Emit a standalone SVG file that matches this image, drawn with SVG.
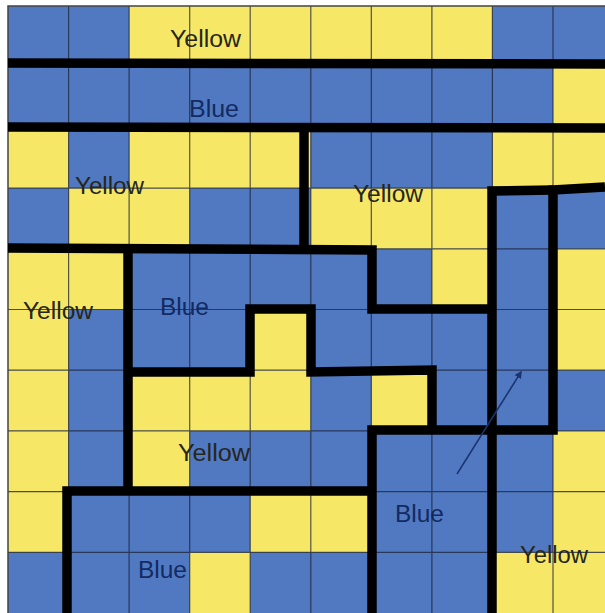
<svg xmlns="http://www.w3.org/2000/svg" width="605" height="613" viewBox="0 0 605 613">
<defs>
<style>
.y{fill:#f6e866}
.grid{stroke:#1c2236;stroke-opacity:0.75;stroke-width:1.2;fill:none}
.wall{stroke:#000;stroke-width:9.5;fill:none;stroke-linejoin:miter;stroke-linecap:butt}
.ly{font-family:"Liberation Sans",Arial,sans-serif;font-size:23px;fill:#26261c}
.lb{font-family:"Liberation Sans",Arial,sans-serif;font-size:23px;fill:#132a62}
</style>
<marker id="ah" viewBox="0 0 10 10" refX="8" refY="5" markerWidth="5" markerHeight="5" orient="auto">
<path d="M0,0 L10,5 L0,10 z" fill="#1a3470"/>
</marker>
</defs>
<rect x="0" y="0" width="605" height="613" fill="#fff"/>
<g id="cells">
<rect x="8" y="6" width="606" height="607" fill="#5079c2"/>
<rect class="y" x="129.1" y="6" width="363.3" height="60.7"/>
<rect class="y" x="553" y="66.7" width="60.6" height="60.7"/>
<rect class="y" x="8" y="127.4" width="60.6" height="60.7"/>
<rect class="y" x="129.1" y="127.4" width="181.7" height="60.7"/>
<rect class="y" x="492.4" y="127.4" width="121.2" height="60.7"/>
<rect class="y" x="68.6" y="188.1" width="121.1" height="60.7"/>
<rect class="y" x="310.8" y="188.1" width="181.6" height="60.7"/>
<rect class="y" x="8" y="248.8" width="121.1" height="60.7"/>
<rect class="y" x="431.9" y="248.8" width="60.6" height="60.7"/>
<rect class="y" x="553" y="248.8" width="60.6" height="60.7"/>
<rect class="y" x="8" y="309.5" width="60.6" height="60.7"/>
<rect class="y" x="250.2" y="309.5" width="60.6" height="60.7"/>
<rect class="y" x="553" y="309.5" width="60.6" height="60.7"/>
<rect class="y" x="8" y="370.2" width="60.6" height="60.7"/>
<rect class="y" x="129.1" y="370.2" width="181.7" height="60.7"/>
<rect class="y" x="371.3" y="370.2" width="60.6" height="60.7"/>
<rect class="y" x="8" y="430.9" width="60.6" height="60.7"/>
<rect class="y" x="129.1" y="430.9" width="60.6" height="60.7"/>
<rect class="y" x="553" y="430.9" width="60.6" height="60.7"/>
<rect class="y" x="8" y="491.6" width="60.6" height="60.7"/>
<rect class="y" x="250.2" y="491.6" width="121.1" height="60.7"/>
<rect class="y" x="553" y="491.6" width="60.6" height="60.7"/>
<rect class="y" x="189.7" y="552.3" width="60.6" height="60.7"/>
<rect class="y" x="492.4" y="552.3" width="121.2" height="60.7"/>
</g>
<g id="labels">
<text class="ly" x="170" y="47" textLength="71" lengthAdjust="spacingAndGlyphs">Yellow</text>
<text class="lb" x="189" y="117" textLength="50" lengthAdjust="spacingAndGlyphs">Blue</text>
<text class="ly" x="75" y="194" textLength="69" lengthAdjust="spacingAndGlyphs">Yellow</text>
<text class="ly" x="353" y="202" textLength="70" lengthAdjust="spacingAndGlyphs">Yellow</text>
<text class="ly" x="23" y="319" textLength="70" lengthAdjust="spacingAndGlyphs">Yellow</text>
<text class="lb" x="160" y="315" textLength="49" lengthAdjust="spacingAndGlyphs">Blue</text>
<text class="ly" x="178" y="461" textLength="72" lengthAdjust="spacingAndGlyphs">Yellow</text>
<text class="lb" x="395" y="522" textLength="49" lengthAdjust="spacingAndGlyphs">Blue</text>
<text class="lb" x="138" y="578" textLength="49" lengthAdjust="spacingAndGlyphs">Blue</text>
<text class="ly" x="520" y="563" textLength="68" lengthAdjust="spacingAndGlyphs">Yellow</text>
</g>
<g id="grid">
<path class="grid" d="M68.6,6V613M129.1,6V613M189.7,6V613M250.2,6V613M310.8,6V613M371.3,6V613M431.9,6V613M492.4,6V613M553,6V613
M8,66.7H605M8,127.4H605M8,188.1H605M8,248.8H605M8,309.5H605M8,370.2H605M8,430.9H605M8,491.6H605M8,552.3H605"/>
<path d="M8,613V6H605" fill="none" stroke="#444" stroke-width="1.5"/>
</g>
<g id="connectors">
<path class="wall" d="M8,63 L605,64"/>
<path class="wall" d="M8,127 L605,128"/>
<path class="wall" d="M304,127 L304,249"/>
<path class="wall" d="M8,248 L372,250 L372,309 L492,309"/>
<path class="wall" d="M128,248 L128,491"/>
<path class="wall" d="M128,372 L250,372 L250,309 L311,309 L311,372 L432,370 L432,430"/>
<path class="wall" d="M372,613 L372,430 L553,430 L553,190 L605,187"/>
<path class="wall" d="M492,613 L492,191 L553,190"/>
<path class="wall" d="M67,613 L67,491 L372,491"/>
<line x1="457" y1="474" x2="521" y2="372" stroke="#1a3470" stroke-width="1.5" marker-end="url(#ah)"/>
</g>
</svg>
